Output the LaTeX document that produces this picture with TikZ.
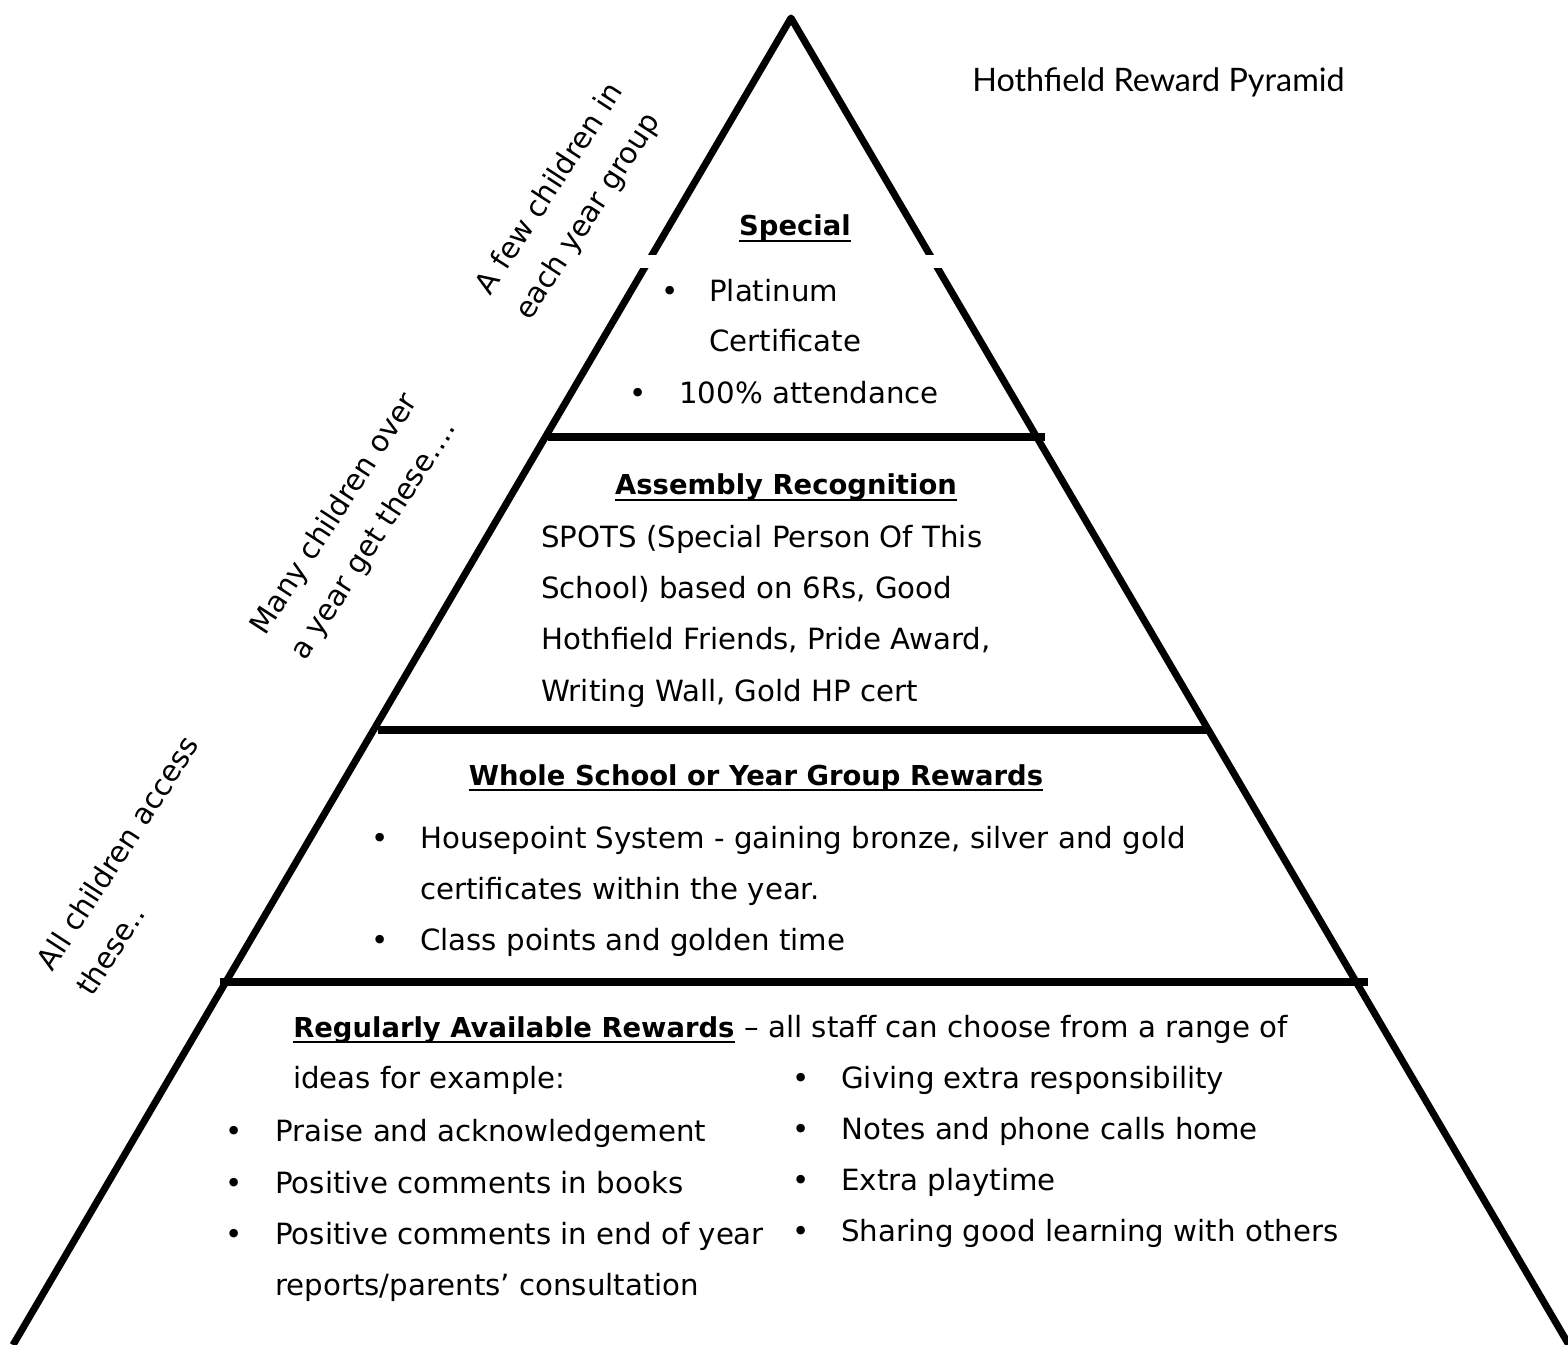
\documentclass[tikz,border=0pt]{standalone}
\usepackage{fontspec}
\setmainfont{DejaVu Sans}
\newfontfamily\titlefont{Lato}
\usepackage{tikz}

\tikzset{
  pyr/.style={line width=5pt,line join=round},
  tier/.style={line width=5pt},
  uline/.style={line width=2pt},
  txt/.style={anchor=base west,inner sep=0pt,font=\fontsize{20.8pt}{36pt}\selectfont},
  head/.style={anchor=base,inner sep=0pt,font=\fontsize{19.5pt}{36pt}\selectfont\bfseries},
  side/.style={anchor=base west,inner sep=0pt,align=left,rotate=57,font=\fontsize{20.8pt}{33.4pt}\selectfont},
  dot/.style={anchor=base,inner sep=0pt,font=\fontsize{20.8pt}{36pt}\selectfont}
}

\begin{document}
\begin{tikzpicture}[x=0.025cm,y=-0.025cm]
\useasboundingbox (0,0) rectangle (1568,1345);
\clip (0,0) rectangle (1568,1345);
% pyramid
\coordinate (apex) at (791,18);
\coordinate (botl) at (13,1345);
\coordinate (botr) at (1569,1345);
\draw[pyr] (botl) -- (apex) -- (botr);
\fill[white] (630,255) rectangle (955,268);
\draw[tier] (548,437) -- (1045,437);
\draw[tier] (378,730) -- (1210,730);
\draw[tier] (220,982) -- (1368,982);
% title
\node[anchor=base west,inner sep=0pt,font=\titlefont\fontsize{23pt}{26pt}\selectfont] (title) at (972,92) {Hothfield Reward Pyramid};
% side notes (anchored on the last line)
\node[side] (few) at (530,322) {A few children in\\each year group};
\node[side] (many) at (305,662) {Many children over\\a year get these….};
\node[side] (all) at (92,998) {All children access\\these..};
% special
\node[head] (special) at (795,236) {Special};
\draw[uline] ([yshift=-3.5pt]special.base west) -- ([yshift=-3.5pt]special.base east);
\node[dot] (sb1) at (670,302) {•};
\node[txt] (plat) at (709,302) {Platinum};
\node[txt] (cert) at (709,352) {Certificate};
\node[dot] (sb2) at (638,404) {•};
\node[txt] (attend) at (679,404) {100\% attendance};
% assembly
\node[head] (assembly) at (786,495) {Assembly Recognition};
\draw[uline] ([yshift=-3.5pt]assembly.base west) -- ([yshift=-3.5pt]assembly.base east);
\node[txt] (spots1) at (541,548) {SPOTS (Special Person Of This};
\node[txt] (spots2) at (541,599) {School) based on 6Rs, Good};
\node[txt] (spots3) at (541,650) {Hothfield Friends, Pride Award,};
\node[txt] (spots4) at (541,701) {Writing Wall, Gold HP cert};
% whole school
\node[head] (whole) at (756,785) {Whole School or Year Group Rewards};
\draw[uline] ([yshift=-3.5pt]whole.base west) -- ([yshift=-3.5pt]whole.base east);
\node[dot] (wb1) at (380,848) {•};
\node[txt] (house1) at (420,848) {Housepoint System - gaining bronze, silver and gold};
\node[txt] (house2) at (420,899) {certificates within the year.};
\node[dot] (wb2) at (380,950) {•};
\node[txt] (class) at (420,950) {Class points and golden time};
% regular
\node[head,anchor=base west] (regular) at (293,1037) {Regularly Available Rewards};
\draw[uline] ([yshift=-3.5pt]regular.base west) -- ([yshift=-3.5pt]regular.base east);
\node[txt] (regrest) at (regular.base east) {~– all staff can choose from a range of};
\node[txt] (ideas) at (293,1088) {ideas for example:};
\node[dot] (lb1) at (234,1141) {•};
\node[txt] (praise) at (275,1141) {Praise and acknowledgement};
\node[dot] (lb2) at (234,1193) {•};
\node[txt] (books) at (275,1193) {Positive comments in books};
\node[dot] (lb3) at (234,1244) {•};
\node[txt] (endyr1) at (275,1244) {Positive comments in end of year};
\node[txt] (endyr2) at (275,1295) {reports/parents’ consultation};
\node[dot] (rb1) at (801,1088) {•};
\node[txt] (giving) at (841,1088) {Giving extra responsibility};
\node[dot] (rb2) at (801,1139) {•};
\node[txt] (notes) at (841,1139) {Notes and phone calls home};
\node[dot] (rb3) at (801,1190) {•};
\node[txt] (extra) at (841,1190) {Extra playtime};
\node[dot] (rb4) at (801,1241) {•};
\node[txt] (sharing) at (841,1241) {Sharing good learning with others};
\end{tikzpicture}
\end{document}
